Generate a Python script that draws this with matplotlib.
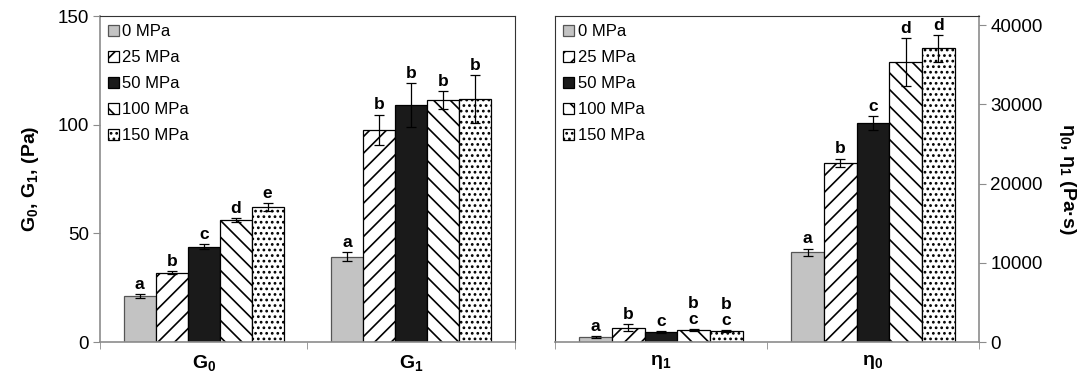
import numpy as np
import matplotlib
matplotlib.use('Agg')
import matplotlib.pyplot as plt

plt.rcParams['font.family'] = ['Liberation Sans', 'DejaVu Sans']
plt.rcParams['mathtext.fontset'] = 'custom'
plt.rcParams['mathtext.rm'] = 'Liberation Sans:bold'
plt.rcParams['mathtext.it'] = 'Liberation Sans:bold'
plt.rcParams['mathtext.bf'] = 'Liberation Sans:bold'
plt.rcParams['hatch.linewidth'] = 1.2

# data
pressures = ['0 MPa', '25 MPa', '50 MPa', '100 MPa', '150 MPa']

g_cats = ['G$_0$', 'G$_1$']
g_vals = [[21.2, 39.3],
          [31.9, 97.6],
          [43.9, 109.1],
          [56.1, 111.4],
          [62.0, 111.7]]
g_errs = [[1.0, 2.2],
          [0.6, 7.0],
          [1.3, 10.0],
          [0.9, 4.0],
          [1.8, 11.0]]
g_letters = [['a', 'a'],
             ['b', 'b'],
             ['c', 'b'],
             ['d', 'b'],
             ['e', 'b']]

eta_cats = ['η$_1$', 'η$_0$']
eta_vals = [[620, 11300],
            [1780, 22600],
            [1260, 27600],
            [1480, 35350],
            [1400, 37050]]
eta_errs = [[120, 500],
            [450, 560],
            [120, 900],
            [100, 3000],
            [100, 1700]]
eta_letters = [['a', 'a'],
               ['b', 'b'],
               ['c', 'c'],
               ['b\nc', 'd'],
               ['b\nc', 'd']]

# styles
colors = ['#c3c3c3', 'white', '#1a1a1a', 'white', 'white']
hatches = [None, '//', None, '\\\\', '...']
edges = ['#555555', 'black', 'black', 'black', 'black']
width = 0.154
axis_gray = '#8c8c8c'

fig = plt.figure(figsize=(10.83, 3.73), dpi=100)
ax1 = fig.add_axes([0.0923, 0.0831, 0.3832, 0.874])
ax2 = fig.add_axes([0.5125, 0.0831, 0.3915, 0.874])


def draw(ax, cats, vals, errs, letters, pad):
    x = np.arange(len(cats))
    for i in range(len(pressures)):
        pos = x + (i - 2) * width
        ax.bar(pos, vals[i], width, color=colors[i], hatch=hatches[i],
               edgecolor=edges[i], linewidth=0.9, label=pressures[i], zorder=2)
        ax.errorbar(pos, vals[i], yerr=errs[i], fmt='none', ecolor='black',
                    elinewidth=0.9, capsize=3.5, capthick=0.9, zorder=3)
        for p, v, e, t in zip(pos, vals[i], errs[i], letters[i]):
            ax.text(p, v + e + pad, t, ha='center', va='bottom',
                    fontsize=12.5, fontweight='bold', linespacing=1.1)
    ax.set_xlim(-0.5, len(cats) - 0.5)
    ax.set_xticks(x)
    ax.set_xticklabels(cats, fontsize=14, fontweight='bold')
    ax.set_xticks(np.arange(-0.5, len(cats)), minor=True)
    ax.tick_params(axis='x', which='major', length=0, pad=8)
    ax.tick_params(axis='x', which='minor', length=5, color=axis_gray, direction='out')
    ax.spines['bottom'].set_color(axis_gray)
    ax.spines['bottom'].set_linewidth(1.2)
    ax.legend(loc='upper left', frameon=False, fontsize=12,
              handlelength=0.65, handleheight=0.65, handletextpad=0.2,
              labelspacing=0.66, borderaxespad=0.2, borderpad=0.3)


draw(ax1, g_cats, g_vals, g_errs, g_letters, 1.0)
ax1.set_ylim(0, 150)
ax1.set_yticks([0, 50, 100, 150])
ax1.tick_params(axis='y', length=5, color=axis_gray, labelsize=13.5, pad=3)
ax1.spines['left'].set_color(axis_gray)
ax1.spines['left'].set_linewidth(1.2)
for s in ['top', 'right']:
    ax1.spines[s].set_color('#333333')
    ax1.spines[s].set_linewidth(0.8)
ax1.set_ylabel('G$_0$, G$_1$, (Pa)', fontsize=14, fontweight='bold', labelpad=12)

draw(ax2, eta_cats, eta_vals, eta_errs, eta_letters, 280)
ax2.set_ylim(0, 41150)
ax2.set_yticks([0, 10000, 20000, 30000, 40000])
ax2.yaxis.tick_right()
ax2.yaxis.set_label_position('right')
ax2.tick_params(axis='y', length=5, color=axis_gray, labelsize=13.5, pad=3)
ax2.spines['right'].set_color(axis_gray)
ax2.spines['right'].set_linewidth(1.2)
for s in ['top', 'left']:
    ax2.spines[s].set_color('#333333')
    ax2.spines[s].set_linewidth(0.8)
ax2.set_ylabel('η$_0$, η$_1$ (Pa·s)', fontsize=14, fontweight='bold',
               rotation=270, va='bottom', labelpad=10)

fig.savefig('out.png', dpi=100)
